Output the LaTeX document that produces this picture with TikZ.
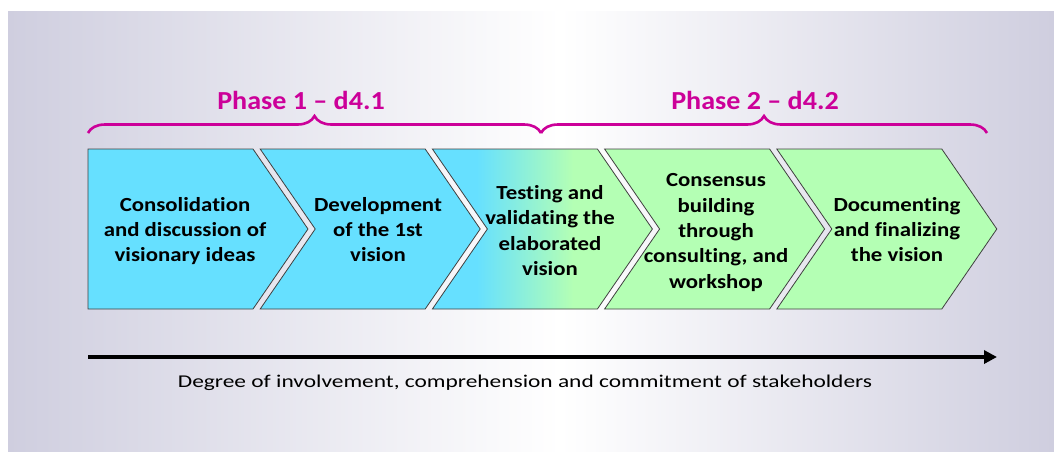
\documentclass[tikz,border=0pt]{standalone}
\usepackage{graphicx}
\usepackage{fontspec}
\setmainfont{Carlito}[Ligatures=NoCommon]
\usetikzlibrary{arrows.meta,decorations.pathreplacing}
\definecolor{bggray}{RGB}{207,206,223}
\definecolor{cy}{RGB}{102,224,255}
\definecolor{gr}{RGB}{180,255,180}
\definecolor{mag}{RGB}{204,0,153}
\definecolor{outl}{RGB}{64,64,64}
\pgfdeclarehorizontalshading{cyangreen}{100bp}{color(0bp)=(cy); color(35bp)=(cy); color(57bp)=(gr); color(100bp)=(gr)}
\newcommand\chevtxt[1]{\scalebox{1.14}[1]{\begin{tabular}{@{}c@{}}#1\end{tabular}}}
\tikzset{
  chev/.style={draw=outl, line width=0.8pt, line join=miter},
  chevtext/.style={font=\bfseries\fontsize{20}{25.3}\selectfont, text=black, inner sep=0pt},
  phasetext/.style={font=\bfseries\fontsize{26}{30}\selectfont, text=mag, inner sep=0pt},
  phasebrace/.style={draw=mag, line width=2.6pt, decorate, decoration={brace, amplitude=17pt}},
  axisarrow/.style={draw=black, line width=4pt, -{Triangle[length=13pt,width=13pt]}},
}
\begin{document}
\begin{tikzpicture}[x=1pt,y=-1pt]
\useasboundingbox (0,0) rectangle (1054,451);
% background
\fill[white] (0,0) rectangle (1054,451);
\fill[left color=bggray, right color=white, shading=axis] (8,11) rectangle (560,451);
\fill[left color=white, right color=bggray, shading=axis] (560,11) rectangle (1054,451);
% chevrons
\def\cA{88}
\def\cB{260.2}
\def\cC{432.4}
\def\cD{604.6}
\def\cE{776.8}
\filldraw[chev, fill=cy] (\cA,149) -- ++(165,0) -- ++(55,80) -- ++(-55,80) -- (\cA,309) -- cycle;
\filldraw[chev, fill=cy] (\cB,149) -- ++(165,0) -- ++(55,80) -- ++(-55,80) -- (\cB,309) -- ++(55,-80) -- cycle;
\draw[chev, shading=cyangreen] (\cC,149) -- ++(165,0) -- ++(55,80) -- ++(-55,80) -- (\cC,309) -- ++(55,-80) -- cycle;
\filldraw[chev, fill=gr] (\cD,149) -- ++(165,0) -- ++(55,80) -- ++(-55,80) -- (\cD,309) -- ++(55,-80) -- cycle;
\filldraw[chev, fill=gr] (\cE,149) -- ++(165,0) -- ++(55,80) -- ++(-55,80) -- (\cE,309) -- ++(55,-80) -- cycle;
% chevron texts
\node[chevtext] (s1) at (185,231.5) {\chevtxt{Consolidation\\and discussion of\\visionary ideas}};
\node[chevtext] (s2) at (378,231.5) {\chevtxt{Development\\of the 1st\\vision}};
\node[chevtext] (s3) at (550,232.5) {\chevtxt{Testing and\\validating the\\elaborated\\vision}};
\node[chevtext] (s4) at (716,232.5) {\chevtxt{Consensus\\building\\through\\consulting, and\\workshop}};
\node[chevtext] (s5) at (897,231.5) {\chevtxt{Documenting\\and finalizing\\the vision}};
% braces
\coordinate (b1) at (88,133);
\coordinate (b2) at (541,133);
\coordinate (b3) at (987,133);
\draw[phasebrace] (b1) -- (b2);
\draw[phasebrace] (b2) -- (b3);
\node[phasetext] (p1) at (301,100) {\scalebox{1.08}[1]{Phase 1 – d4.1}};
\node[phasetext] (p2) at (755,100) {\scalebox{1.08}[1]{Phase 2 – d4.2}};
% axis arrow
\coordinate (a1) at (88,357);
\coordinate (a2) at (997,357);
\draw[axisarrow] (a1) -- (a2);
\node[font=\fontsize{18}{21}\selectfont, inner sep=0pt] (lab) at (525,383) {\scalebox{1.3}[1]{Degree of involvement, comprehension and commitment of stakeholders}};
\end{tikzpicture}
\end{document}
